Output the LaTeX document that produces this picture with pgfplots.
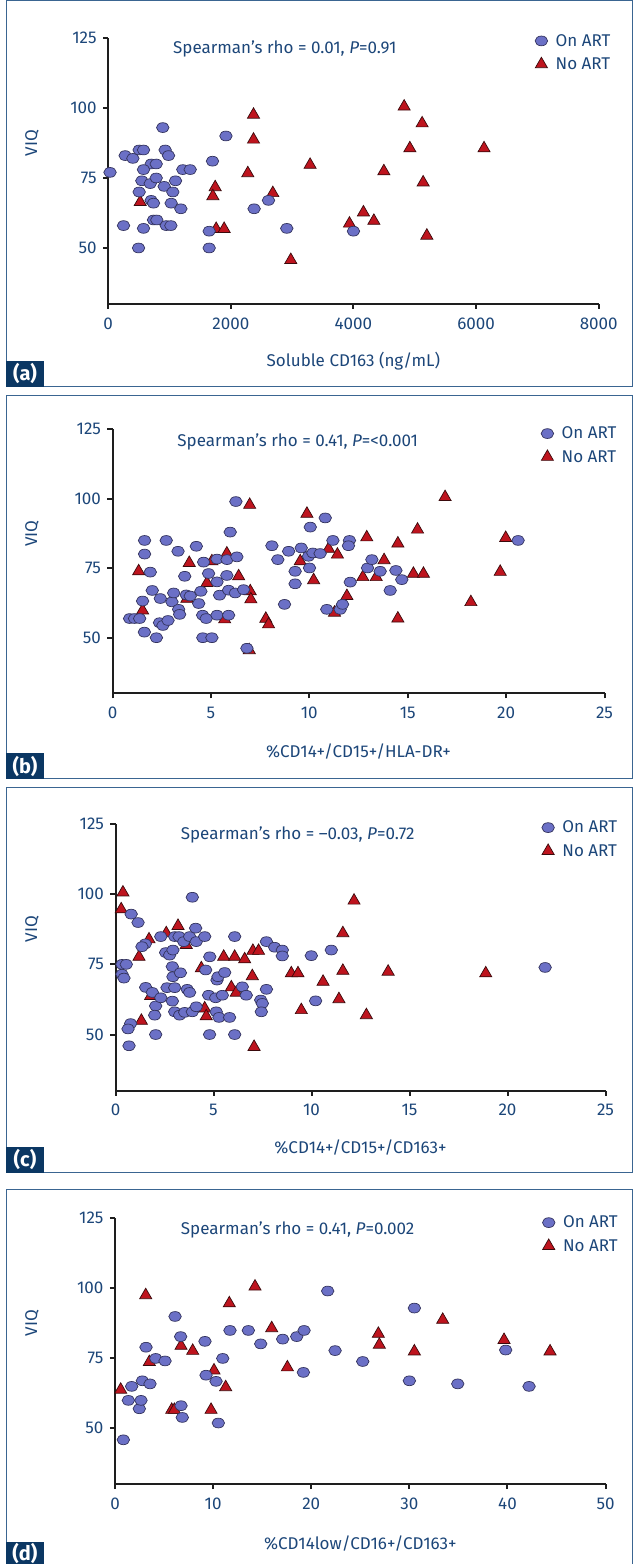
\documentclass[border=0pt]{standalone}
\usepackage{fontspec}
\setmainfont{Fira Sans}
\usepackage{pgfplots}
\pgfplotsset{compat=1.18}
\definecolor{txtblue}{HTML}{1C4679}
\definecolor{frameblue}{HTML}{3A6591}
\definecolor{labbox}{HTML}{0B3763}
\definecolor{onfill}{HTML}{6B70C6}
\definecolor{onedge}{HTML}{34345E}
\definecolor{nofill}{HTML}{BE141E}
\definecolor{noedge}{HTML}{3A0A0C}
\definecolor{axcol}{HTML}{1E1E1E}
\newcommand{\fs}{\fontsize{17}{20}\selectfont}
\tikzset{rho/.style={anchor=west, inner sep=0pt, font=\fs, text=txtblue}}
\pgfplotsset{
 panel/.style={
   scale only axis, anchor=south west,
   axis x line=bottom, axis y line=left,
   axis line style={-, line width=2pt, draw=axcol},
   tick style={line width=2pt, draw=axcol},
   major tick length=5pt,
   tick align=outside,
   ymin=30, ymax=125, ytick={50,75,100,125},
   tick label style={font=\fs, text=txtblue},
   xticklabel style={yshift=-5pt},
   yticklabel style={xshift=-3pt},
   /pgf/number format/assume math mode=true,
   /pgf/number format/1000 sep={},
   scaled ticks=false,
   label style={font=\fs, text=txtblue},
   ylabel={VIQ},
   legend style={draw=none, fill=none, font=\fs, text=txtblue, anchor=north west, inner sep=0pt, row sep=8pt, nodes={inner sep=1pt}, /tikz/every odd column/.append style={column sep=7pt}},
   legend cell align=left,
   reverse legend,
   legend image code/.code={\draw[mark repeat=2,mark phase=2,##1] plot coordinates {(0pt,0pt) (7pt,0pt) (14pt,0pt)};},
   clip=false,
 },
 onart/.style={only marks, mark=*, mark size=4.9pt, mark options={xscale=1.28, fill=onfill, draw=onedge, line width=0.7pt}},
 noart/.style={only marks, mark=triangle*, mark size=7pt, mark options={fill=nofill, draw=noedge, line width=0.7pt}},
}
\begin{document}
\begin{tikzpicture}
\useasboundingbox (0pt,0pt) rectangle (633pt,1564pt);
% panel frames and labels
\foreach \yb/\yt/\lab/\ly/\bh in {1177/1563/a/1190.5/26, 785/1168/b/797.5/26, 391/776/c/404.5/26, -2/374/d/11/24}{
  \draw[frameblue, line width=1pt] (6pt,\yb pt) rectangle (632pt,\yt pt);
  \fill[labbox] (5.5pt,\yb pt) rectangle (44pt,\yb pt+\bh pt);
  \node[text=white, font=\fontsize{20}{22}\selectfont\bfseries, inner sep=0pt] at (25pt,\ly pt) {(\lab)};
}
% ---------------- (a)
\begin{axis}[panel, at={(108.2pt,1260pt)}, width=490.5pt, height=266pt,
  xmin=0, xmax=8000, xtick={0,2000,...,8000},
  xlabel={Soluble CD163 (ng/mL)},
  xlabel style={at={(axis description cs:0.5,-0.2068)}, anchor=center, yshift=-2pt},
  ylabel style={at={(axis description cs:-0.1553,0.6053)}, anchor=center},
  legend style={at={(axis description cs:0.870,1.0187)}}]
\addplot[noart] table {
522 66.4
2370 97.6
2370 88.7
2277 76.7
1745 71.7
1707 68.5
1761 56.8
1891 56.8
2685 69.6
3293 79.7
2978 45.7
4163 62.7
3935 58.7
4827 100.5
5120 94.5
4920 85.6
6130 85.6
4496 77.4
5137 73.4
4333 59.7
5197 54.4
};
\addlegendentry{No ART}
\addplot[onart] table {
30 77
890 93
1920 90
277 83
402 82
505 85
576 85
929 85
984 83
701 80
783 80
576 78
1217 78
1337 78
1701 81
549 74
685 73
783 75
913 72
1098 74
1054 70
505 70
701 67
739 66
1027 66
1185 64
739 60
793 60
946 58
1022 58
250 58
576 57
495 50
1647 50
1647 56
2380 64
2614 67
2913 57
4000 56
};
\addlegendentry{On ART}
\node[rho] at (rel axis cs:0.132,0.958) {Spearman’s rho = 0.01, \textit{P}=0.91};
\end{axis}
% ---------------- (b)
\begin{axis}[panel, at={(112.5pt,870.7pt)}, width=492pt, height=264pt,
  xmin=0, xmax=25, xtick={0,5,...,25},
  xlabel={\%CD14+/CD15+/HLA-DR+},
  xlabel style={at={(axis description cs:0.5,-0.2148)}, anchor=center, yshift=-2pt},
  ylabel style={at={(axis description cs:-0.1636,0.6053)}, anchor=center},
  legend style={at={(axis description cs:0.8708,1.0137)}}]
\addplot[noart] table {
1.33 73.9
1.53 59.8
3.90 76.9
5.81 80.3
5.05 77.5
4.80 69.7
6.41 72.1
6.97 97.8
7.00 66.7
7.03 63.8
7.79 56.8
7.93 54.8
6.95 45.5
3.78 64.0
5.70 56.6
9.88 94.6
9.54 77.5
10.22 70.7
10.98 82.0
11.43 79.9
11.28 59.0
11.91 65.0
12.72 71.8
12.92 86.1
13.40 71.8
13.80 77.9
14.50 83.9
14.50 56.9
15.29 73.0
15.80 73.0
15.50 88.9
16.90 100.6
18.21 62.8
19.70 73.7
19.98 85.9
};
\addlegendentry{No ART}
\addplot[onart] table {
0.87 56.9
1.12 56.9
1.38 56.9
1.63 85.0
1.63 80.1
2.73 85.0
1.92 73.6
2.02 67.0
1.53 63.2
1.62 52.0
2.23 50.0
2.43 64.1
2.39 55.4
2.56 54.4
2.82 56.2
3.02 62.9
3.11 66.1
3.33 81.1
3.67 72.1
3.36 60.2
3.41 58.4
3.75 65.4
3.95 65.0
4.26 82.9
4.63 77.2
4.88 73.1
4.49 66.7
4.38 62.3
4.58 58.1
4.76 56.9
5.31 78.3
5.82 78.1
6.32 79.1
5.44 65.3
5.31 58.1
5.90 58.1
5.81 72.4
5.31 70.1
4.59 50.0
5.05 50.0
5.98 88.0
6.27 99.0
5.90 67.1
6.24 66.1
6.66 67.3
6.83 46.2
8.10 83.1
8.40 78.1
8.74 62.0
8.95 81.1
9.59 82.3
9.28 73.9
9.28 69.4
10.05 89.8
10.81 93.1
9.96 79.3
10.18 80.5
10.55 80.3
10.01 75.1
11.20 85.0
12.04 85.0
11.99 83.1
12.08 70.0
10.89 60.2
11.57 60.2
11.69 62.0
12.96 75.1
13.18 78.1
13.60 73.9
14.40 74.2
14.70 70.9
14.11 67.0
20.61 85.0
};
\addlegendentry{On ART}
\node[rho] at (rel axis cs:0.1315,0.952) {Spearman’s rho = 0.41, \textit{P}=<0.001};
\end{axis}
% ---------------- (c)
\begin{axis}[panel, at={(115.5pt,473.3pt)}, width=490pt, height=266.7pt,
  xmin=0, xmax=25, xtick={0,5,...,25},
  xlabel={\%CD14+/CD15+/CD163+},
  xlabel style={at={(axis description cs:0.5,-0.2073)}, anchor=center, yshift=-2pt},
  ylabel style={at={(axis description cs:-0.1704,0.6053)}, anchor=center},
  legend style={at={(axis description cs:0.8697,1.0161)}}]
\addplot[noart] table {
0.38 100.6
0.29 94.6
1.20 77.7
1.32 54.9
1.71 83.9
3.19 88.7
2.59 86.1
3.61 81.9
4.38 73.6
5.52 77.7
6.08 77.7
6.59 76.8
7.01 79.8
7.30 79.8
6.98 70.8
4.55 59.3
4.63 56.5
5.91 66.8
6.16 64.9
7.07 45.6
8.97 71.8
9.31 71.8
10.59 68.8
9.48 58.7
11.40 62.6
11.60 72.7
11.60 86.1
12.17 97.7
12.80 56.9
13.91 72.4
18.89 71.8
1.79 63.7
};
\addlegendentry{No ART}
\addplot[onart] table {
0.33 75.0
0.55 75.0
0.33 71.5
0.43 70.1
0.80 92.9
1.15 89.9
1.52 82.3
1.35 81.3
0.77 53.9
0.64 52.0
0.69 46.0
1.54 66.8
1.88 65.0
2.05 60.2
2.00 56.9
2.31 63.1
2.05 50.0
2.31 84.9
2.56 79.2
2.76 78.3
2.93 80.1
2.90 74.2
2.93 70.6
3.31 72.0
2.63 66.7
3.02 66.7
2.90 61.9
3.02 84.9
3.24 84.9
3.48 83.1
3.78 84.9
4.12 83.1
4.09 87.9
3.92 98.9
3.02 58.1
3.27 56.9
3.53 57.9
3.92 58.1
4.12 59.9
3.66 66.1
3.78 65.0
4.55 84.9
4.81 77.7
4.60 73.0
5.18 69.4
5.23 70.6
5.57 72.1
4.75 64.0
5.11 63.1
5.45 64.0
5.14 58.1
5.28 56.1
5.82 56.1
4.80 50.0
6.08 84.9
6.08 50.0
6.47 67.0
6.67 64.0
7.70 66.1
7.41 62.3
7.49 61.1
7.44 58.1
7.70 83.1
8.12 81.1
8.51 80.1
8.51 78.0
9.99 78.1
11.01 80.1
10.21 62.0
21.92 73.9
};
\addlegendentry{On ART}
\node[rho] at (rel axis cs:0.133,0.9585) {Spearman’s rho = –0.03, \textit{P}=0.72};
\end{axis}
% ---------------- (d)
\begin{axis}[panel, at={(115pt,80pt)}, width=490.6pt, height=265.7pt,
  xmin=0, xmax=50, xtick={0,10,...,50},
  xlabel={\%CD14low/CD16+/CD163+},
  xlabel style={at={(axis description cs:0.5,-0.2183)}, anchor=center, yshift=-2pt},
  ylabel style={at={(axis description cs:-0.1692,0.6053)}, anchor=center},
  legend style={at={(axis description cs:0.8709,1.0135)}}]
\addplot[noart] table {
0.58 63.7
3.13 97.5
3.50 73.6
5.78 56.5
6.05 56.5
6.73 79.4
7.92 77.6
10.09 70.6
9.79 56.5
11.28 64.6
11.65 94.6
14.27 100.6
15.97 85.7
17.57 71.7
26.84 83.7
26.94 79.8
30.51 77.4
33.40 88.7
39.65 81.5
44.34 77.4
};
\addlegendentry{No ART}
\addplot[onart] table {
0.85 45.8
1.36 59.9
1.70 64.9
2.48 56.9
2.65 59.9
2.79 66.9
3.57 65.8
3.16 78.9
4.15 74.9
5.10 74.0
6.12 89.9
6.69 82.7
6.73 58.0
6.86 53.8
9.17 81.0
9.28 68.9
10.30 66.7
10.98 74.9
10.53 51.8
11.72 84.9
13.59 84.9
14.85 80.1
17.09 81.8
18.52 82.7
19.27 84.9
19.20 69.9
21.68 99.0
22.43 77.7
25.25 73.8
30.51 92.9
30.00 66.9
34.93 65.8
39.82 77.9
42.20 64.9
};
\addlegendentry{On ART}
\node[rho] at (rel axis cs:0.134,0.956) {Spearman’s rho = 0.41, \textit{P}=0.002};
\end{axis}
\end{tikzpicture}
\end{document}
